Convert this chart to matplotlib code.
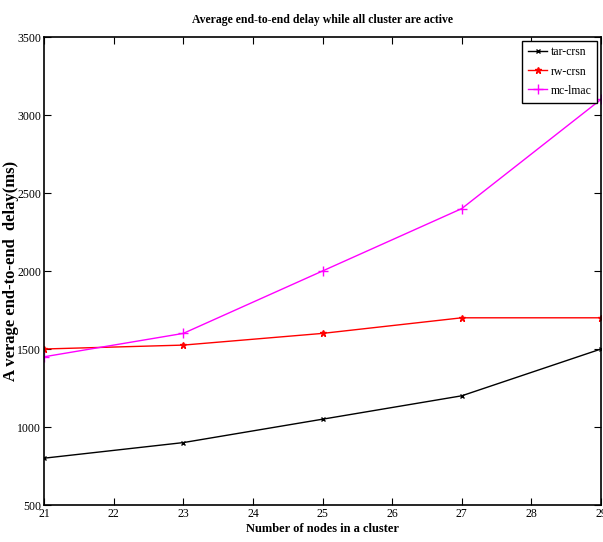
import matplotlib.pyplot as plt
plt.rc('font', family='Liberation Serif')

nodes = [21, 23, 25, 27, 29]
tar_crsn = [800, 900, 1050, 1200, 1500]
rw_crsn = [1500, 1525, 1600, 1700, 1700]
mc_lmac = [1450, 1600, 2000, 2400, 3100]

fig = plt.figure(figsize=(6.03, 5.42), dpi=100)
ax = fig.add_axes([44/603, 1 - 505/542, 557/603, 468/542])

ax.plot(nodes, tar_crsn, color='black', marker='x', markersize=3, lw=1, label='tar-crsn')
ax.plot(nodes, rw_crsn, color='red', marker='*', markersize=5, lw=1, label='rw-crsn')
ax.plot(nodes, mc_lmac, color='magenta', marker='+', markersize=7, lw=1, label='mc-lmac')

ax.set_xlim(21, 29)
ax.set_ylim(500, 3500)
ax.set_xticks(range(21, 30))
ax.set_yticks(range(500, 3501, 500))
ax.tick_params(direction='in', top=True, right=True, labelsize=8.5, length=5, pad=2)
for s in ax.spines.values():
    s.set_linewidth(1.2)

ax.set_xlabel('Number of nodes in a cluster', size=9, fontweight='bold', labelpad=2)
ax.set_ylabel('A verage end-to-end  delay(ms)', size=12, fontweight='bold')
ax.yaxis.set_label_coords(-0.045, 0.5)
ax.set_title('Average end-to-end delay while all cluster are active', size=8.5, fontweight='bold', pad=10)

leg = ax.legend(loc='upper right', fontsize=8.5, fancybox=False, framealpha=1,
                edgecolor='black', borderaxespad=0.3, handlelength=1.6,
                handletextpad=0.3, borderpad=0.5, labelspacing=0.6)
leg.get_frame().set_linewidth(1)

plt.savefig('out.png')
